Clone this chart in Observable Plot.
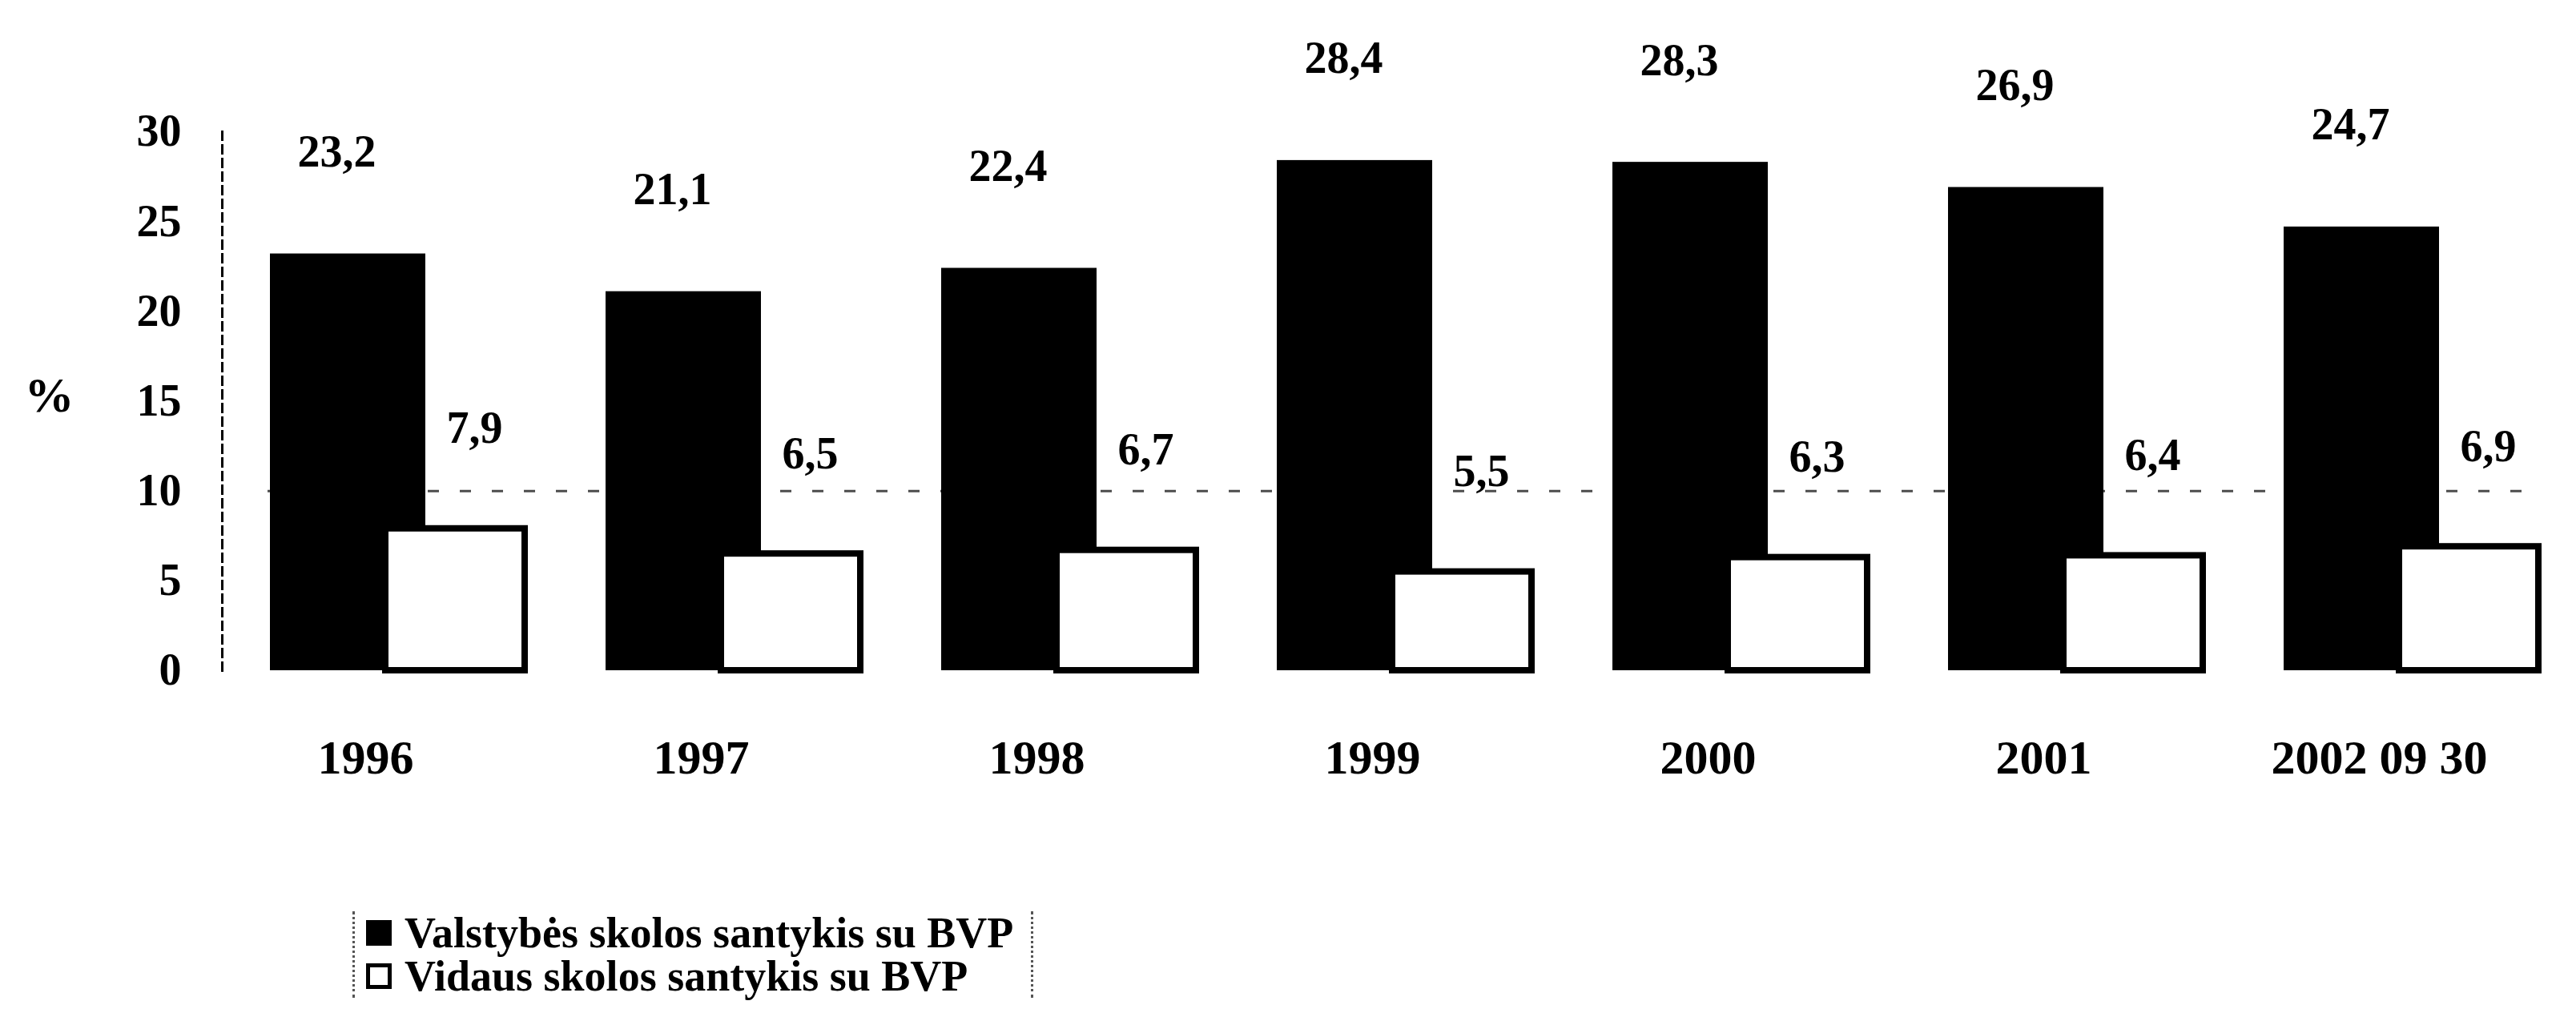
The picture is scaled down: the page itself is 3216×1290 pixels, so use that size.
<!DOCTYPE html>
<html>
<head>
<meta charset="utf-8">
<script src="https://cdn.jsdelivr.net/npm/d3@7"></script>
<script src="https://cdn.jsdelivr.net/npm/@observablehq/plot@0.6"></script>
<style>
  html, body { margin: 0; padding: 0; background: #fff; }
  body { width: 3216px; height: 1290px; overflow: hidden; font-family: "Liberation Serif", "DejaVu Serif", serif; font-weight: bold; }
  #chart svg { display: block; }
  .legend { margin-left: 440px; margin-top: 108px; width: 830px; padding-left: 14px; border-left: 3px dotted #555; border-right: 3px dotted #555; font-size: 54px; line-height: 54px; }
  .legend .row { display: flex; align-items: center; }
  .legend .sw { width: 32px; height: 32px; box-sizing: border-box; margin-right: 16px; }
  .legend .sw.black { background: #000; }
  .legend .sw.white { background: #fff; border: 5px solid #000; }
</style>
</head>
<body>
<div id="chart"></div>
<div class="legend">
  <div class="row"><span class="sw black"></span><span>Valstybės skolos santykis su BVP</span></div>
  <div class="row"><span class="sw white"></span><span>Vidaus skolos santykis su BVP</span></div>
</div>
<script>
const years = ["1996", "1997", "1998", "1999", "2000", "2001", "2002 09 30"];
const valstybesSkola = [23.2, 21.1, 22.4, 28.4, 28.3, 26.9, 24.7];
const vidausSkola = [7.9, 6.5, 6.7, 5.5, 6.3, 6.4, 6.9];
const yTicks = [0, 5, 10, 15, 20, 25, 30];

const blackData = years.map((year, i) => ({year, value: valstybesSkola[i]}));
const whiteData = years.map((year, i) => ({year, value: vidausSkola[i]}));
const fmt = v => v.toFixed(1).replace(".", ",");

const font = "Liberation Serif";

const chart = Plot.plot({
  width: 3216,
  height: 1030,
  marginLeft: 334,
  marginRight: 43,
  marginTop: 164,
  marginBottom: 193,
  style: {fontFamily: font, fontWeight: "bold", background: "#fff", color: "#000"},
  x: {domain: years, paddingInner: 0.24, paddingOuter: 0},
  y: {domain: [0, 30]},
  marks: [
    Plot.frame({anchor: "left", dx: -57, stroke: "#000", strokeWidth: 3, strokeDasharray: "10,7"}),
    Plot.ruleY([10], {stroke: "#000", strokeWidth: 3, strokeDasharray: "14,26", strokeOpacity: 0.7}),
    Plot.barY(blackData, {x: "year", y: "value", fill: "#000", insetRight: 124}),
    Plot.barY(whiteData, {x: "year", y: "value", fill: "#fff", stroke: "#000", strokeWidth: 8, insetLeft: 144}),
    Plot.text(blackData, {x: "year", y: "value", text: d => fmt(d.value), dx: -76, dy: -127, fontSize: 56, fontWeight: "bold", fill: "#000"}),
    Plot.text(whiteData, {x: "year", y: "value", text: d => fmt(d.value), dx: 96, dy: -125, fontSize: 56, fontWeight: "bold", fill: "#000"}),
    Plot.axisY({ticks: yTicks, tickSize: 0, tickPadding: 108, fontSize: 56, fontWeight: "bold", label: null, tickFormat: d => String(d)}),
    Plot.text(["%"], {frameAnchor: "left", y: [15.3], text: d => d, dx: -304, textAnchor: "start", fontSize: 62, fontWeight: "bold"}),
    Plot.axisX({tickSize: 0, tickPadding: 86, dx: -40, fontSize: 60, fontWeight: "bold", label: null})
  ]
});
document.getElementById("chart").appendChild(chart);
</script>
</body>
</html>
